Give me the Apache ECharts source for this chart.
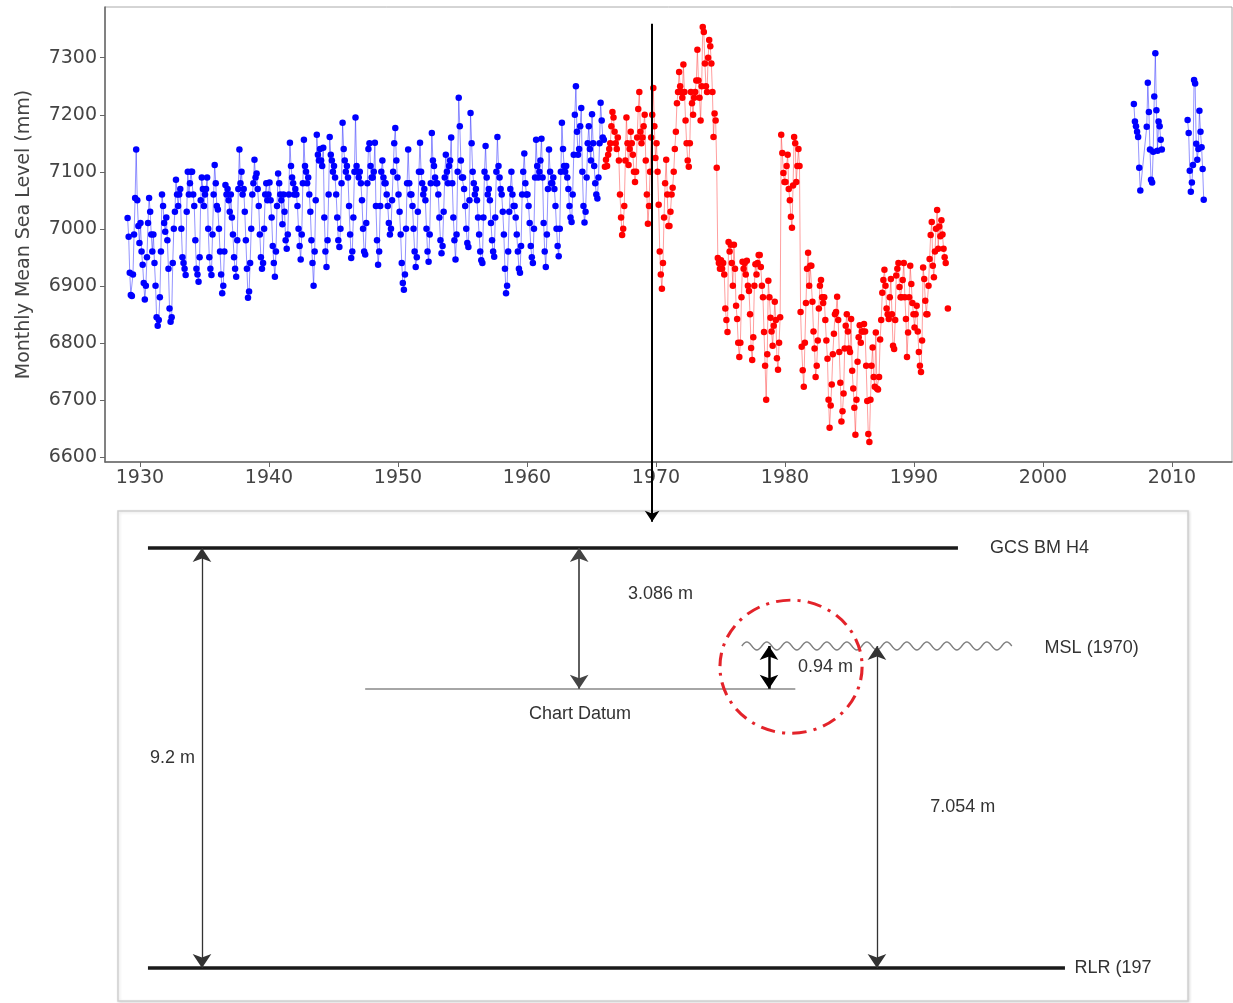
<!DOCTYPE html>
<html>
<head>
<meta charset="utf-8">
<script src="https://cdn.jsdelivr.net/npm/echarts@6/dist/echarts.min.js"></script>
<style>html,body{margin:0;padding:0;background:#fff;}#chart{width:1233px;height:1003px;}</style>
</head>
<body>
<div id="chart"></div>
<script>
// ---------- Monthly mean sea level (mm) ----------
const blueEarlyStart = 1929; // Jan 1929
const blueEarly = [
7019,6986,6923,6884,6882,6920,6990,7054,7139,7050,7005,6975,
7010,6960,6937,6905,6876,6900,6950,7010,7054,7030,6990,6960,
6990,6940,6900,6845,6830,6840,6880,6960,7060,7040,7010,6995,
7020,6980,6930,6860,6837,6845,6940,7000,7030,7086,7060,7040,
7060,7070,7000,6950,6940,6930,6919,7030,7100,7060,7080,7100,
7100,7060,7040,6980,6930,6920,6907,6950,7050,7090,7070,7040,
7060,7070,7090,7000,6950,6930,6919,6990,7060,7112,7080,7040,
7034,7000,6960,6920,6887,6900,6960,7077,7060,7070,7050,7030,
7060,7020,6990,6950,6930,6916,6980,7070,7139,7080,7100,7060,
7070,7030,6980,6930,6879,6890,6940,7000,7060,7080,7121,7090,
7097,7070,7040,6990,6950,6930,6940,7000,7060,7080,7050,7060,
7081,7050,7020,6970,6940,6916,6960,7040,7097,7080,7060,7050,
7008,7060,7030,6980,6965,6990,7060,7151,7110,7090,7080,7060,
7070,7060,7040,7000,6970,6946,6990,7080,7156,7110,7100,7080,
7090,7060,7030,6980,6940,6900,6960,7050,7165,7130,7120,7140,
7120,7110,7142,7020,6960,6933,6980,7060,7161,7130,7120,7100,
7110,7090,7060,7020,6980,6968,7000,7080,7186,7140,7120,7100,
7110,7090,7040,6990,6949,6960,7020,7100,7195,7110,7100,7090,
7100,7080,7050,7000,6960,6955,7010,7080,7140,7150,7110,7090,
7090,7100,7151,7040,6980,6937,6960,7040,7100,7120,7090,7080,
7080,7060,7040,7010,6990,7000,7050,7100,7150,7177,7120,7090,
7060,7030,6990,6940,6905,6893,6920,7000,7080,7139,7080,7060,
7060,7040,7000,6960,6933,6950,7030,7100,7151,7100,7080,7060,
7070,7050,7000,6960,6942,6990,7080,7168,7120,7110,7090,7080,
7080,7060,7020,6980,6957,6970,7030,7090,7130,7100,7080,7110,
7120,7160,7080,7020,6980,6946,6990,7100,7230,7180,7120,7090,
7090,7070,7040,7000,6975,6968,7050,7203,7150,7100,7080,7060,
7070,7050,7020,6990,6960,6945,6940,7020,7100,7145,7090,7060,
7070,7050,7010,6980,6960,6951,7020,7100,7161,7110,7090,7070,
7060,7030,6990,6930,6887,6900,6960,7030,7070,7100,7060,7040,
7040,7020,6990,6960,6930,6923,6970,7060,7100,7132,7080,7060,
7060,7040,7010,6970,6950,6940,7000,7090,7156,7110,7090,7100,
7120,7158,7090,7010,6960,6933,6990,7070,7139,7100,7080,7080,
7090,7070,7040,7000,6970,6952,7000,7100,7186,7140,7110,7100,
7110,7090,7070,7040,7020,7012,7060,7130,7200,7250,7170,7130,
7140,7180,7212,7100,7040,7011,7030,7090,7150,7180,7140,7120,
7201,7150,7110,7080,7060,7053,7090,7150,7221,7190,7160,7156
];
const redMidStart = 1966; // Jan 1966
const redMid = [
7109,7121,7110,7130,7140,7150,7180,7205,7195,7170,7150,7140,
7160,7120,7060,7020,6989,7000,7040,7120,7195,7150,7112,7140,
7170,7150,7130,7100,7082,7100,7160,7210,7240,7170,7150,7160,
7180,7200,7120,7060,7009,7040,7100,7160,7200,7247,7180,7124,
7150,7100,7042,6960,6920,6895,6940,7020,7080,7121,7060,7005,
7005,7030,7060,7072,7100,7140,7170,7220,7240,7275,7250,7240,
7230,7288,7240,7190,7150,7120,7109,7150,7240,7220,7200,7230,
7240,7260,7314,7260,7230,7190,7250,7354,7345,7290,7250,7240,
7300,7331,7320,7290,7240,7161,7202,7190,7107,6949,6940,6930,
6945,6930,6940,6920,6860,6840,6819,6977,6960,6972,6940,6900,
6972,6930,6865,6842,6800,6775,6800,6880,6942,6930,6940,6920,
6944,6900,6891,6850,6791,6770,6810,6900,6938,6920,6940,6954,
6954,6933,6900,6880,6819,6760,6700,6780,6909,6880,6844,6820,
6795,6830,6872,6840,6773,6753,6800,6845,7165,7133,7098,7082,
7082,7110,7130,7070,7050,7021,7002,7076,7161,7150,7082,7110,
7140,7110,6854,6793,6752,6723,6800,6870,6930,6958,6900,6935,
6935,6872,6820,6790,6740,6760,6804,6860,6900,6910,6880,6870,
6880,6840,6804,6772,6700,6651,6690,6727,6780,6816,6850,6854,
6881,6840,6784,6730,6662,6680,6711,6790,6830,6850,6820,6790,
6784,6842,6751,6720,6686,6639,6700,6767,6810,6831,6800,6820,
6820,6833,6820,6760,6698,6640,6626,6700,6760,6792,6740,6723,
6818,6720,6718,6740,6806,6840,6888,6910,6928,6900,6860,6850,
6842,6880,6912,6850,6795,6789,6840,6918,6930,6940,6898,6880,
6880,6910,6940,6880,6842,6775,6818,6880,6935,6903,6870,6850,
6827,6850,6865,6820,6784,6760,6749,6804,6932,6912,6874,6850,
6850,6900,6947,6989,7012,6935,6915,6960,7000,7033,6965,7004,
6987,7015,6990,6965,6950,6940,null,6860
];
const blueRecentAStart = 2007; // Jan 2007
const blueRecentA = [
7219,7188,7180,7170,7161,7107,7067,null,null,null,null,null,
7179,7256,7205,7139,7086,7081,7135,7232,7308,7208,7137,7188,
7180,7156,7139
];
const blueRecentBStart = 2011 + 2 / 12; // Mar 2011
const blueRecentB = [7191,7168,7102,7065,7081,7112,7261,7255,7149,7121,7140,7207,7170,7143,7105,7051];

const xTicks = [1930, 1940, 1950, 1960, 1970, 1980, 1990, 2000, 2010];
const yTicks = [6600, 6700, 6800, 6900, 7000, 7100, 7200, 7300];
const markerYear = 1969.7; // the 1970 reference arrow

// ---------- Datum diagram (heights in metres above RLR 1970) ----------
const datumNames   = ['GCS BM H4', 'Chart Datum', 'MSL (1970)', 'RLR (1970)'];
const datumHeights = [9.2, 6.114, 7.054, 0];
const offsetLabels = ['9.2 m', '3.086 m', '0.94 m', '7.054 m'];

// ---------- build ----------
function toPoints(start, vals) {
  return vals.map((v, i) => [start + (i + 0.5) / 12, v === null ? '-' : v]);
}
const H = {};
datumNames.forEach((n, i) => { H[n] = datumHeights[i]; });
const hGCS = H['GCS BM H4'], hCD = H['Chart Datum'], hMSL = H['MSL (1970)'], hRLR = H['RLR (1970)'];

// layout of the diagram in its own 0-100 horizontal units
const L = {
  gcs: [2.8, 78.5], rlr: [2.8, 88.5], cd: [23.1, 63.3], msl: [58.3, 83.55],
  a92: 7.85, a3086: 43.1, a094: 60.84, a7054: 70.93,
  circle: [62.9, 6.6]
};

const texts = [
  { t: datumNames[0], x: 81.5, y: hGCS, align: 'left' },
  { t: datumNames[2], x: 86.6, y: hMSL - 0.05, align: 'left' },
  { t: datumNames[1], x: 43.18, y: hCD - 0.55, align: 'center' },
  { t: datumNames[3], x: 89.4, y: hRLR, align: 'left', width: 84 },
  { t: offsetLabels[0], x: 2.99, y: (hGCS + hRLR) / 2, align: 'left' },
  { t: offsetLabels[1], x: 47.66, y: hGCS - 1.01, align: 'left' },
  { t: offsetLabels[2], x: 63.55, y: (hMSL + hCD) / 2, align: 'left' },
  { t: offsetLabels[3], x: 75.9, y: (hMSL + hRLR) / 2, align: 'left' }
];

const FONT_TOP = 'DejaVu Sans';
const FONT_DIA = 'Liberation Sans';
const plain = v => String(Math.round(v));

const chart = echarts.init(document.getElementById('chart'), null, { renderer: 'canvas' });

function monthlySeries(name, data, dot, line, connect) {
  return {
    name: name, type: 'line', xAxisIndex: 0, yAxisIndex: 0,
    data: data, symbol: 'circle', symbolSize: 6.5, showSymbol: true, showAllSymbol: true,
    connectNulls: connect,
    itemStyle: { color: dot, borderWidth: 0 },
    lineStyle: { color: line, width: 1 },
    emphasis: { disabled: true }, z: 3
  };
}

const option = {
  animation: false,
  backgroundColor: '#fff',
  grid: [
    { left: 105, top: 7, width: 1127, height: 455, show: true, borderColor: '#aaa', borderWidth: 1, backgroundColor: 'transparent' },
    { left: 118, top: 511, width: 1070, height: 490, show: true, borderColor: '#d0d0d0', borderWidth: 1.5,
      backgroundColor: '#fff', shadowColor: 'rgba(0,0,0,0.12)', shadowBlur: 3, shadowOffsetX: 1, shadowOffsetY: 1 }
  ],
  xAxis: [
    { type: 'value', gridIndex: 0, min: 1927.29, max: 2014.65,
      axisLine: { show: true, onZero: false, lineStyle: { color: '#666', width: 1.5 } },
      axisTick: { show: true, length: 5, customValues: xTicks, lineStyle: { color: '#666' } },
      axisLabel: { customValues: xTicks, formatter: plain, margin: 7, color: '#444', fontFamily: FONT_TOP, fontSize: 19 },
      splitLine: { show: false } },
    { type: 'value', gridIndex: 1, min: 0, max: 100, show: false }
  ],
  yAxis: [
    { type: 'value', gridIndex: 0, min: 6591, max: 7389,
      name: 'Monthly Mean Sea Level (mm)', nameLocation: 'middle', nameGap: 71,
      nameTextStyle: { color: '#444', fontFamily: FONT_TOP, fontSize: 19 },
      axisLine: { show: true, onZero: false, lineStyle: { color: '#666', width: 1.5 } },
      axisTick: { show: true, length: 5, customValues: yTicks, lineStyle: { color: '#666' } },
      axisLabel: { customValues: yTicks, formatter: plain, margin: 8, color: '#444', fontFamily: FONT_TOP, fontSize: 19 },
      splitLine: { show: false } },
    { type: 'value', gridIndex: 1, min: -0.723, max: 10.01, show: false }
  ],
  series: [
    monthlySeries('blueEarly', toPoints(blueEarlyStart, blueEarly), '#0000ff', 'rgba(40,40,255,0.5)', false),
    monthlySeries('redMid', toPoints(redMidStart, redMid), '#ff0000', 'rgba(255,40,40,0.45)', false),
    monthlySeries('blueRecentA', toPoints(blueRecentAStart, blueRecentA), '#0000ff', 'rgba(40,40,255,0.5)', true),
    monthlySeries('blueRecentB', toPoints(blueRecentBStart, blueRecentB), '#0000ff', 'rgba(40,40,255,0.5)', true),
    { // 1970 pointer from the record down to the diagram
      type: 'lines', coordinateSystem: 'cartesian2d', xAxisIndex: 0, yAxisIndex: 0, clip: false,
      symbol: ['none', 'arrow'], symbolSize: 11, z: 5,
      lineStyle: { color: '#000', width: 2, opacity: 1 },
      data: [{ coords: [[markerYear, 7359.6], [markerYear, 6486]] }]
    },
    { // datum levels
      type: 'lines', coordinateSystem: 'cartesian2d', xAxisIndex: 1, yAxisIndex: 1, symbol: 'none', z: 3,
      data: [
        { coords: [[L.gcs[0], hGCS], [L.gcs[1], hGCS]], lineStyle: { color: '#1a1a1a', width: 3.5, opacity: 1 } },
        { coords: [[L.rlr[0], hRLR], [L.rlr[1], hRLR]], lineStyle: { color: '#1a1a1a', width: 3.5, opacity: 1 } },
        { coords: [[L.cd[0], hCD], [L.cd[1], hCD]], lineStyle: { color: '#888', width: 1.6, opacity: 1 } }
      ]
    },
    { // thin dimension arrows
      type: 'lines', coordinateSystem: 'cartesian2d', xAxisIndex: 1, yAxisIndex: 1,
      symbol: ['arrow', 'arrow'], symbolSize: 14, z: 4,
      lineStyle: { color: '#333', width: 1.3, opacity: 1 },
      data: [
        { coords: [[L.a92, hRLR], [L.a92, hGCS]] },
        { coords: [[L.a3086, hCD], [L.a3086, hGCS]], lineStyle: { color: '#444', width: 1.7, opacity: 1 } },
        { coords: [[L.a7054, hRLR], [L.a7054, hMSL]] }
      ]
    },
    { // thick 0.94 m arrow
      type: 'lines', coordinateSystem: 'cartesian2d', xAxisIndex: 1, yAxisIndex: 1,
      symbol: ['arrow', 'arrow'], symbolSize: 14, z: 4,
      lineStyle: { color: '#000', width: 2.5, opacity: 1 },
      data: [{ coords: [[L.a094, hCD], [L.a094, hMSL]] }]
    },
    { // wavy MSL line
      type: 'custom', xAxisIndex: 1, yAxisIndex: 1, z: 3, silent: true,
      data: [[L.msl[0], hMSL]],
      renderItem: function (params, api) {
        const p0 = api.coord([L.msl[0], hMSL]);
        const p1 = api.coord([L.msl[1], hMSL]);
        const pts = [];
        const period = 20, amp = 4;
        for (let x = p0[0]; x <= p1[0]; x += 1) {
          pts.push([x, p0[1] - amp * Math.sin(2 * Math.PI * (x - p0[0]) / period)]);
        }
        return { type: 'polyline', shape: { points: pts }, style: { stroke: '#808080', lineWidth: 1.4, fill: null } };
      }
    },
    { // red dash-dot highlight circle
      type: 'custom', xAxisIndex: 1, yAxisIndex: 1, z: 6, silent: true,
      data: [L.circle],
      renderItem: function (params, api) {
        const c = api.coord(L.circle);
        return { type: 'circle', x: c[0], y: c[1], scaleX: 1.03, scaleY: 0.965,
          shape: { cx: 0, cy: 0, r: 69 },
          style: { stroke: '#e3232a', lineWidth: 3, fill: null, lineDash: [14, 7, 3, 7] } };
      }
    },
    { // diagram labels
      type: 'custom', xAxisIndex: 1, yAxisIndex: 1, z: 7, silent: true,
      data: texts.map(t => [t.x, t.y]),
      renderItem: function (params, api) {
        const t = texts[params.dataIndex];
        const p = api.coord([t.x, t.y]);
        const style = { text: t.t, fill: '#333', font: '18px "' + FONT_DIA + '"', align: t.align, verticalAlign: 'middle' };
        if (t.width) { style.width = t.width; style.overflow = 'truncate'; style.ellipsis = ''; }
        return { type: 'text', x: p[0], y: p[1], style: style };
      }
    }
  ]
};
chart.setOption(option);
</script>
</body>
</html>
